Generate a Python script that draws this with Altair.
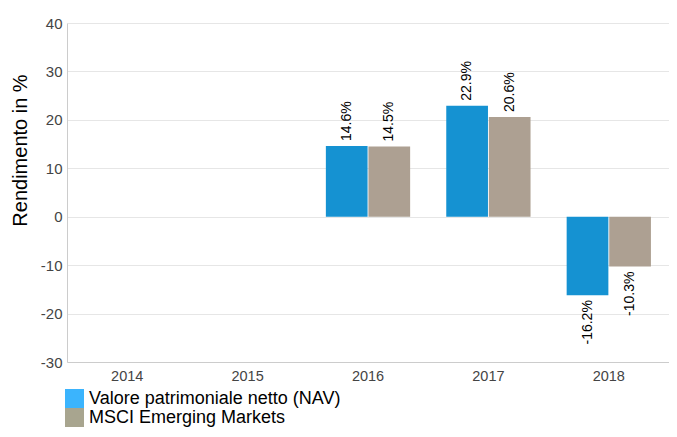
import altair as alt
import pandas as pd

years = ["2014", "2015", "2016", "2017", "2018"]
series = ["Valore patrimoniale netto (NAV)", "MSCI Emerging Markets"]
nav = [None, None, 14.6, 22.9, -16.2]
msci = [None, None, 14.5, 20.6, -10.3]
bar_colors = ["#1592d2", "#ada092"]
legend_colors = ["#3bb4fd", "#a8a58f"]

rows = []
for yr, a, b in zip(years, nav, msci):
    if a is not None:
        rows.append({"year": yr, "series": series[0], "value": a, "label": f"{a:.1f}%"})
    if b is not None:
        rows.append({"year": yr, "series": series[1], "value": b, "label": f"{b:.1f}%"})
df = pd.DataFrame(rows)
leg_df = pd.DataFrame({"entry": series})

font = "Liberation Sans"

x = alt.X(
    "year:N",
    scale=alt.Scale(domain=years, paddingInner=0.3, paddingOuter=0.15),
    axis=alt.Axis(title=None, labelAngle=0, labelFontSize=14.5, labelColor="#444444",
                  labelPadding=7, ticks=False, domainColor="#cccccc", grid=False),
)
xo = alt.XOffset("series:N", scale=alt.Scale(domain=series, paddingInner=0.02))
y = alt.Y(
    "value:Q",
    scale=alt.Scale(domain=[-30, 40], nice=False, zero=False),
    axis=alt.Axis(values=list(range(-30, 41, 10)), title="Rendimento in %",
                  titleFontSize=20, titleFontWeight="normal", titleColor="black",
                  titleX=-47, titleY=127, titleAngle=270, titleAlign="center",
                  titleBaseline="middle", labelFontSize=15, labelColor="#444444",
                  labelPadding=5, ticks=False, domainColor="#cccccc",
                  gridColor="#e6e6e6", labelExpr="toString(datum.value)"),
)

base = alt.Chart(df)

bars = base.mark_bar().encode(
    x=x, xOffset=xo, y=y,
    color=alt.Color("series:N", scale=alt.Scale(domain=series, range=bar_colors), legend=None),
)

pos = base.transform_filter("datum.value >= 0").mark_text(
    angle=270, align="left", baseline="middle", dx=5, fontSize=14, color="black", font=font
).encode(x=x, xOffset=xo, y=y, text="label:N")

neg = base.transform_filter("datum.value < 0").mark_text(
    angle=270, align="right", baseline="middle", dx=-5, fontSize=14, color="black", font=font
).encode(x=x, xOffset=xo, y=y, text="label:N")

# legend proxy: squares drawn off-canvas, only their legend is visible
leg = alt.Chart(leg_df).mark_square(opacity=1, filled=True, size=361).encode(
    x=alt.value(0), y=alt.value(-5000),
    fill=alt.Fill("entry:N", scale=alt.Scale(domain=series, range=legend_colors),
                  legend=alt.Legend(title=None, orient="none", legendX=-2, legendY=366,
                                    symbolType="square", symbolSize=361, labelFontSize=18,
                                    labelColor="black", rowPadding=0, symbolStrokeWidth=0,
                                    labelOffset=5, direction="vertical", padding=0,
                                    labelLimit=0, labelFont=font)),
)

chart = alt.layer(bars, pos, neg, leg).resolve_scale(fill="independent").properties(
    width=602, height=339, autosize="none",
    padding={"left": 59, "top": 15, "right": 0, "bottom": 67},
).configure(font=font).configure_view(stroke=None)

chart.save("out.html", embed_options={"renderer": "svg", "actions": False})
